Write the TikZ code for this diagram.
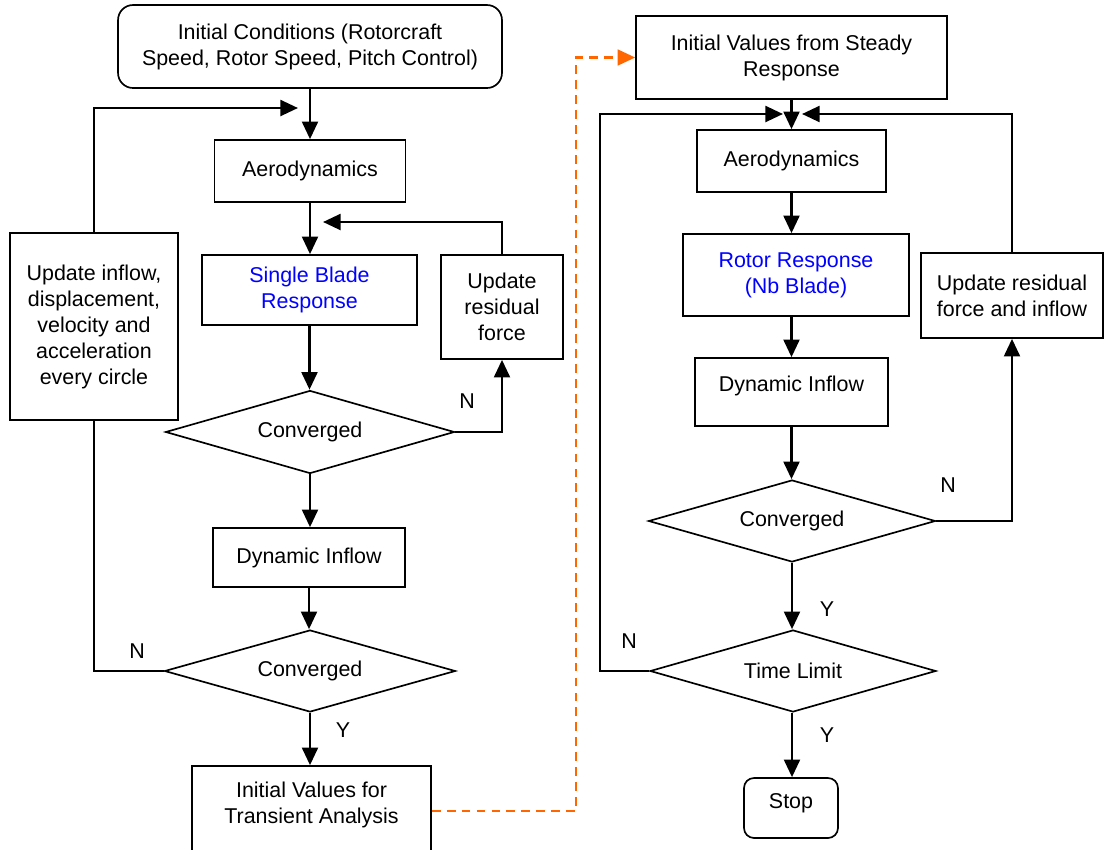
\documentclass[tikz,border=0pt]{standalone}
\usepackage{fontspec}
\setmainfont{Liberation Sans}
\usetikzlibrary{arrows.meta,shapes.geometric}
\definecolor{dashorange}{RGB}{255,102,0}
\definecolor{txtblue}{RGB}{0,0,255}
\begin{document}
\begin{tikzpicture}[x=0.02cm,y=-0.02cm,
  every node/.style={font=\fontsize{12.2}{14.8}\selectfont, align=center, inner sep=0pt},
  box/.style={draw, line width=0.95pt, rectangle},
  rbox/.style={draw, line width=0.95pt, rectangle, rounded corners=0.3cm},
  dia/.style={draw, line width=0.95pt, diamond, shape aspect=3.5},
  lbl/.style={font=\fontsize{12.2}{14}\selectfont},
  arr/.style={line width=1.5pt, -{Triangle[length=10pt,width=9pt]}},
  ln/.style={line width=1.5pt},
  odash/.style={line width=1.3pt, dashorange, dash pattern=on 5pt off 3.5pt, -{Triangle[length=10pt,width=9pt]}}
]
\useasboundingbox (0,0) rectangle (1106,849);

% left column
\node[rbox, minimum width=7.68cm, minimum height=1.66cm] (init) at (310,46.5) {Initial Conditions (Rotorcraft\\Speed, Rotor Speed, Pitch Control)};
\node[box, minimum width=3.82cm, minimum height=1.24cm] (aero) at (310,171) {Aerodynamics};
\node[box, minimum width=4.30cm, minimum height=1.40cm, text=txtblue] (sbr) at (309.5,290) {Single Blade\\Response};
\node[box, minimum width=2.44cm, minimum height=2.08cm] (upres) at (502,307) {Update\\residual\\force};
\node[box, minimum width=3.36cm, minimum height=3.74cm] (upinfl) at (94,326.5) {Update inflow,\\displacement,\\velocity and\\acceleration\\every circle};
\node[dia, minimum width=5.78cm, minimum height=1.66cm] (d1) at (310,432) {Converged};
\node[box, minimum width=3.84cm, minimum height=1.18cm] (dyn) at (309,557.5) {Dynamic Inflow};
\node[dia, minimum width=5.82cm, minimum height=1.64cm] (d2) at (310,671) {Converged};
\node[box, minimum width=4.78cm, minimum height=1.80cm, text depth=9.5pt] (trans) at (311.5,811) {Initial Values for\\Transient Analysis};

% right column
\node[box, minimum width=6.22cm, minimum height=1.66cm] (steady) at (791.5,57.5) {Initial Values from Steady\\Response};
\node[box, minimum width=3.78cm, minimum height=1.24cm] (aero2) at (791.5,161) {Aerodynamics};
\node[box, minimum width=4.52cm, minimum height=1.64cm, text=txtblue] (rotor) at (796,275) {Rotor Response\\(Nb Blade)};
\node[box, minimum width=3.86cm, minimum height=1.36cm, text depth=9.5pt] (dyn2) at (791.5,392) {Dynamic Inflow};
\node[box, minimum width=3.64cm, minimum height=1.70cm] (upres2) at (1012,295.5) {Update residual\\force and inflow};
\node[dia, minimum width=5.74cm, minimum height=1.64cm] (d3) at (792,521) {Converged};
\node[dia, minimum width=5.72cm, minimum height=1.64cm] (tl) at (793,671) {Time Limit};
\node[rbox, rounded corners=0.2cm, minimum width=1.88cm, minimum height=1.20cm, text depth=8.5pt] (stop) at (791,808) {Stop};

% labels
\node[lbl] (n1) at (467,401) {N};
\node[lbl] (n2) at (137,651) {N};
\node[lbl] (y1) at (343,730) {Y};
\node[lbl] (n3) at (948,485) {N};
\node[lbl] (y2) at (827,609) {Y};
\node[lbl] (n4) at (629,641) {N};
\node[lbl] (y3) at (827,735) {Y};

% junction coordinates
\coordinate (j1) at (298,108);
\coordinate (j2) at (323,222);
\coordinate (j3) at (783,114);
\coordinate (j4) at (802,114);
\coordinate (xo) at (576,0);
\coordinate (xl) at (600,0);

% left connectors
\draw[arr] (init.south) -- (aero.north);
\draw[arr] (aero.south) -- (aero.south |- sbr.north);
\draw[arr] (sbr.south) -- (sbr.south |- d1.north);
\draw[arr] (d1.south) -- (dyn.north -| d1.south);
\draw[arr] (dyn.south) -- (dyn.south |- d2.north);
\draw[arr] (d2.south) -- (trans.north -| d2.south);
\draw[arr] (d1.east) -| (upres.south);
\draw[arr] (upres.north) |- (j2);
\draw[ln] (d2.west) -| (upinfl.south);
\draw[arr] (upinfl.north) |- (j1);

% orange dashed link
\draw[odash] (trans.east) -- (trans.east -| xo) |- (steady.west);

% right connectors
\draw[arr] (steady.south) -- (aero2.north);
\draw[arr] (aero2.south) -- (aero2.south |- rotor.north);
\draw[arr] (rotor.south -| aero2.south) -- (dyn2.north);
\draw[arr] (dyn2.south) -- (dyn2.south |- d3.north);
\draw[arr] (d3.south) -- (d3.south |- tl.north);
\draw[arr] (tl.south -| d3.south) -- (stop.north -| d3.south);
\draw[arr] (d3.east) -| (upres2.south);
\draw[arr] (upres2.north) |- (j4);
\draw[arr] (tl.west) -- (tl.west -| xl) |- (j3);
\end{tikzpicture}
\end{document}
